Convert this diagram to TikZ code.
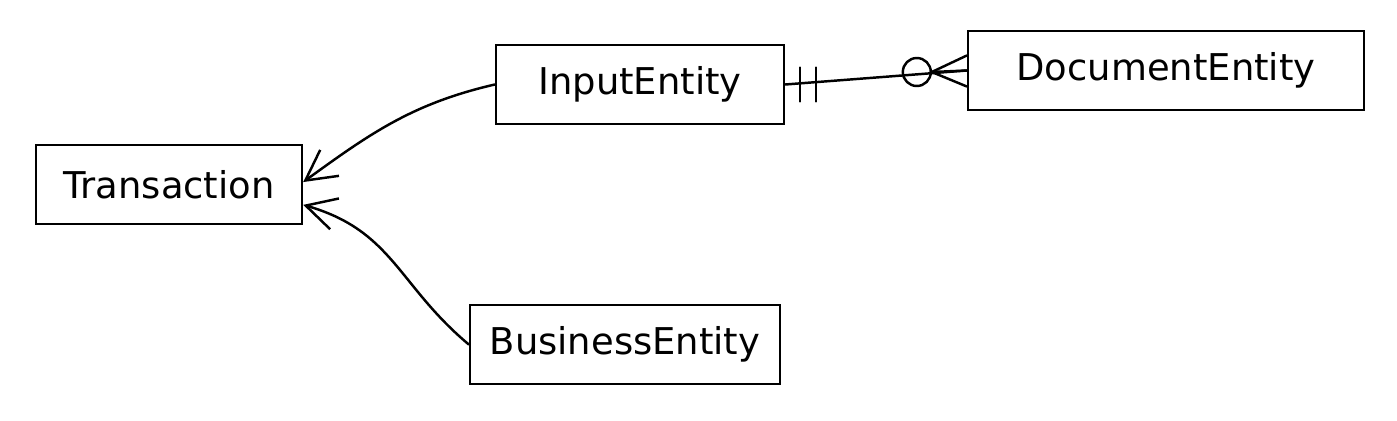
\documentclass[tikz,border=0pt]{standalone}
\usepackage{fontspec}
\setmainfont{DejaVu Sans}
\usetikzlibrary{arrows.meta,calc}
\tikzstyle{ent} = [rectangle, draw, line width=1.4pt, minimum height=1.58cm,
    inner sep=0pt, font=\fontsize{21}{25}\selectfont]
\tikzstyle{conn} = [line width=1.4pt, line cap=round]

\begin{document}
\begin{tikzpicture}[x=0.02cm,y=-0.02cm,>={Straight Barb[length=0.6cm,width=0.64cm]}]
  \useasboundingbox (0,0) rectangle (1397,420);

  \node[ent,minimum width=5.32cm] (tr) at (169,184.5)  {Transaction};
  \node[ent,minimum width=5.76cm] (ie) at (640,84.5)   {InputEntity};
  \node[ent,minimum width=7.92cm] (de) at (1166,70.5)  {DocumentEntity};
  \node[ent,minimum width=6.2cm]  (be) at (625,344.5)  {BusinessEntity};

  % Transaction <- InputEntity / BusinessEntity
  \draw[conn,->] (ie.west) to[out=193,in=36]
    ($(tr.south east)!0.53!(tr.north east)$);
  \draw[conn,->] (be.west) to[out=140,in=-16,looseness=1.1]
    ($(tr.south east)!0.25!(tr.north east)$);

  % InputEntity -- DocumentEntity (one / zero or many)
  \draw[conn] (ie.east) -- (de.west);
  \draw[conn] ($(ie.east)+(15,-17)$) -- ++(0,34);
  \draw[conn] ($(ie.east)+(31,-17)$) -- ++(0,34);
  \draw[conn] ($(de.west)+(-50,1.5)$) circle[radius=0.28cm];
  \draw[conn] ($(de.west)+(0,-15)$) -- ($(de.west)+(-35,1.5)$) -- ($(de.west)+(0,16)$);
  \draw[conn] ($(de.west)+(-35,1.5)$) -- (de.west);
\end{tikzpicture}
\end{document}
